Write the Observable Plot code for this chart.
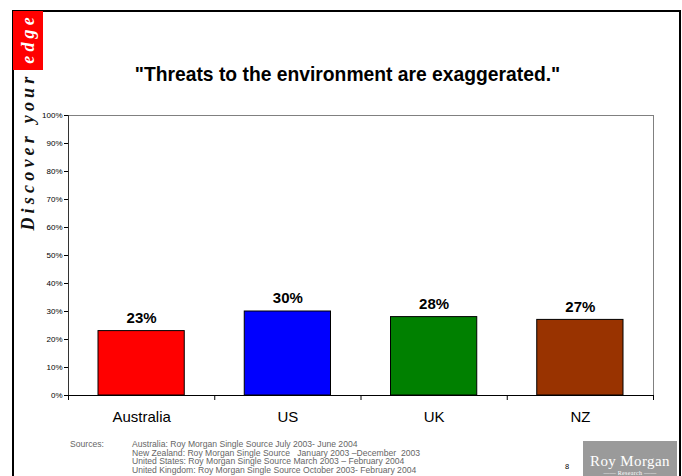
<!DOCTYPE html>
<html>
<head>
<meta charset="utf-8">
<script src="https://cdn.jsdelivr.net/npm/d3@7"></script>
<script src="https://cdn.jsdelivr.net/npm/@observablehq/plot@0.6"></script>
<style>
  html, body { margin: 0; padding: 0; background: #fff; }
  #page { position: relative; width: 682px; height: 476px; overflow: hidden; font-family: "Liberation Sans", Arial, sans-serif; }
  #chart { position: absolute; left: 0; top: 0; }
  #frame { position: absolute; left: 12px; top: 10px; width: 665px; height: 500px; border-left: 2px solid #000; border-top: 2px solid #000; border-right: 2px solid #000; }
  #redbox { position: absolute; left: 13px; top: 11px; width: 30px; height: 59px; background: #ff0000; }
  #slogan { position: absolute; left: -88px; top: 112px; width: 232px; height: 30px; line-height: 30px; transform: rotate(-90deg); transform-origin: center; text-align: right; padding-right: 2px; box-sizing: border-box; font-family: "Liberation Serif", "Times New Roman", serif; font-style: italic; font-weight: bold; font-size: 18px; letter-spacing: 4.2px; color: #111; white-space: nowrap; }
  #slogan .edge { color: #fff; }
  #title { position: absolute; left: 0; width: 695px; top: 64px; text-align: center; font-weight: bold; font-size: 19.3px; color: #000; }
  .src { position: absolute; font-size: 8.6px; color: #666; line-height: 8.6px; white-space: pre; }
  #pagenum { position: absolute; left: 565px; top: 462px; font-size: 7.5px; color: #000; }
  #logo { position: absolute; left: 583px; top: 441px; width: 94px; height: 40px; background: #9a9a9a; color: #fff; text-align: center; font-family: "Liberation Serif", "Times New Roman", serif; }
  #logo .big { font-size: 15px; letter-spacing: 0.4px; margin-top: 13px; line-height: 15px; }
  #logo .small { font-size: 6px; line-height: 7px; margin-top: 1px; letter-spacing: 0.3px; }
</style>
</head>
<body>
<div id="page">
  <div id="frame"></div>
  <div id="redbox"></div>
  <div id="slogan">Discover your <span class="edge">edge</span></div>
  <div id="title">"Threats to the environment are exaggerated."</div>
  <div id="chart"></div>
  <div class="src" style="left:70px; top:440px;">Sources:</div>
  <div class="src" style="left:132px; top:440px;">Australia: Roy Morgan Single Source July 2003- June 2004
New Zealand: Roy Morgan Single Source   January 2003 –December  2003
United States: Roy Morgan Single Source March 2003 – February 2004
United Kingdom: Roy Morgan Single Source October 2003- February 2004</div>
  <div id="pagenum">8</div>
  <div id="logo"><div class="big">Roy Morgan</div><div class="small">—— Research ——</div></div>
</div>
<script>
const categories = ["Australia", "US", "UK", "NZ"];
const values = [23, 30, 28, 27];
const colors = ["#ff0000", "#0000ff", "#008000", "#993300"];
const yTicks = [0, 10, 20, 30, 40, 50, 60, 70, 80, 90, 100];

const data = categories.map((c, i) => ({ country: c, value: values[i], color: colors[i], idx: i }));
const bounds = d3.range(categories.length + 1);

const chart = Plot.plot({
  width: 682,
  height: 476,
  marginLeft: 68,
  marginRight: 29,
  marginTop: 115,
  marginBottom: 81,
  style: { background: "transparent", fontFamily: "'Liberation Sans', Arial, sans-serif", color: "#000" },
  x: { type: "linear", domain: [0, categories.length], label: null },
  y: { domain: [0, 100], label: null },
  marks: [
    Plot.frame({ stroke: "#808080" }),
    Plot.rectY(data, { x1: "idx", x2: d => d.idx + 1, y: "value", fill: "color", stroke: "#000", strokeWidth: 1, insetLeft: 30, insetRight: 30 }),
    Plot.axisY({ ticks: yTicks, tickFormat: d => d + "%", tickSize: 4, tickPadding: 2, fontSize: 8, stroke: "#000", fill: "#000", label: null }),
    Plot.axisX({ ticks: bounds, tickFormat: () => "", tickSize: 5, stroke: "#000", label: null }),
    Plot.ruleX([0], { stroke: "#333" }),
    Plot.ruleY([0], { stroke: "#000" }),
    Plot.text(data, { x: d => d.idx + 0.5, y: "value", text: d => d.value + "%", dy: -13, fontSize: 15, fontWeight: "bold", fill: "#000" }),
    Plot.text(data, { x: d => d.idx + 0.5, y: 0, text: "country", dy: 22, fontSize: 15, fill: "#000" })
  ]
});
document.getElementById("chart").appendChild(chart);
</script>
</body>
</html>
